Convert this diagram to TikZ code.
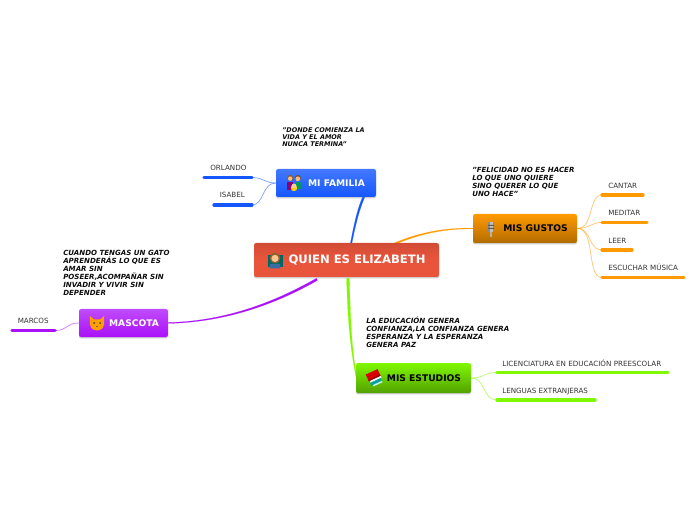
\documentclass[tikz,border=0pt]{standalone}
\usepackage{fontspec}
\setmainfont{DejaVu Sans}
\usetikzlibrary{calc,shadows,backgrounds}
\definecolor{cblue}{HTML}{1557FF}
\definecolor{cpurple}{HTML}{AA10FA}
\definecolor{corange}{HTML}{FF9A00}
\definecolor{cgreen}{HTML}{7FF800}
\definecolor{croot}{HTML}{E9553B}
\tikzset{
  mainbox/.style={rounded corners=1.6pt,inner sep=0pt,font=\fontsize{6.85pt}{7.5pt}\bfseries,
     drop shadow={shadow xshift=0pt,shadow yshift=-1.1pt,opacity=.4}},
  leaftext/.style={anchor=base west,inner sep=0pt,text=black!80,font=\fontsize{5.37pt}{6pt}\selectfont},
  notetext/.style={anchor=north west,inner sep=0pt,align=left,text=black!95,font=\fontsize{5.3pt}{6.05pt}\bfseries\itshape},
  underl/.style={line width=2.4pt,line cap=round},
  twig/.style={line width=.55pt,opacity=.55},
}
\newcommand\taper[7]{\filldraw[#1,line width=.1pt] ($#2+(#6)$) .. controls ($#3+(#6)$) and ($#4+(#7)$) .. ($#5+(#7)$) -- ($#5-(#7)$) .. controls ($#4-(#7)$) and ($#3-(#6)$) .. ($#2-(#6)$) -- cycle;}
\begin{document}
\begin{tikzpicture}[x=0.75pt,y=-0.75pt]
\useasboundingbox (0,0) rectangle (696,520);
% main boxes
\node[mainbox,text=white,minimum width=138.75pt,minimum height=25.5pt,top color=croot!90!black,bottom color=croot,middle color=croot,font=\fontsize{8.7pt}{9.5pt}\bfseries] (root) at (346.5,260) {\hspace{15.75pt}QUIEN ES ELIZABETH};
\node[mainbox,text=white,minimum width=75pt,minimum height=21pt,top color=cblue!80!white,bottom color=cblue] (fam) at (326,183) {\hspace{15.75pt}MI FAMILIA};
\node[mainbox,text=white,minimum width=66.75pt,minimum height=21pt,top color=cpurple!75!white,bottom color=cpurple] (masc) at (123.5,323) {\hspace{15.75pt}MASCOTA};
\node[mainbox,text=black,minimum width=78pt,minimum height=21.75pt,top color=corange,bottom color=corange!70!black] (gus) at (525,228.5) {\hspace{15.75pt}MIS GUSTOS};
\node[mainbox,text=black,minimum width=86.25pt,minimum height=22.5pt,top color=cgreen,bottom color=cgreen!65!black] (est) at (413.5,378) {\hspace{15.75pt}MIS ESTUDIOS};
% notes
\node[notetext,font=\fontsize{4.85pt}{5.6pt}\bfseries\itshape] (n1) at (282,127) {"DONDE COMIENZA LA\\VIDA Y EL AMOR\\NUNCA TERMINA"};
\node[notetext] (n2) at (472,166.5) {"FELICIDAD NO ES HACER\\LO QUE UNO QUIERE\\SINO QUERER LO QUE\\UNO HACE"};
\node[notetext] (n3) at (63,249.5) {CUANDO TENGAS UN GATO\\APRENDERÁS LO QUE ES\\AMAR SIN\\POSEER,ACOMPAÑAR SIN\\INVADIR Y VIVIR SIN\\DEPENDER};
\node[notetext] (n4) at (366,316.5) {LA EDUCACIÓN GENERA\\CONFIANZA,LA CONFIANZA GENERA\\ESPERANZA Y LA ESPERANZA\\GENERA PAZ};
% leaves
\node[leaftext] (l1) at (210,171) {ORLANDO};
\node[leaftext] (l2) at (219.5,198) {ISABEL};
\node[leaftext] (l3) at (17.5,324) {MARCOS};
\node[leaftext] (l4) at (608,189) {CANTAR};
\node[leaftext] (l5) at (608,216) {MEDITAR};
\node[leaftext] (l6) at (608,243.5) {LEER};
\node[leaftext] (l7) at (608,271) {ESCUCHAR MÚSICA};
\node[leaftext] (l8) at (502,366) {LICENCIATURA EN EDUCACIÓN PREESCOLAR};
\node[leaftext] (l9) at (502,393.5) {LENGUAS EXTRANJERAS};
% underline end points
\coordinate (u1a) at (204,177.5); \coordinate (u1b) at (252,177.5);
\coordinate (u2a) at (214,205); \coordinate (u2b) at (252,205);
\coordinate (u3a) at (12,330.5); \coordinate (u3b) at (55,330.5);
\coordinate (u4a) at (602,195); \coordinate (u4b) at (643,195);
\coordinate (u5a) at (602,222.5); \coordinate (u5b) at (647,222.5);
\coordinate (u6a) at (602,250); \coordinate (u6b) at (632,250);
\coordinate (u7a) at (602,277.5); \coordinate (u7b) at (684,277.5);
\coordinate (u8a) at (497,372.5); \coordinate (u8b) at (668,372.5);
\coordinate (u9a) at (497,400); \coordinate (u9b) at (595,400);
\begin{pgfonlayer}{background}
\taper{cblue}{(root.north)+(4.5,1)}{(355,224)}{(358,210)}{(fam.south)+(38,-1)}{0.7,0.2}{1.0,0.3}
\taper{corange}{(gus.west)+(1,0)}{(445,228)}{(420,233)}{(root.north)+(48,1)}{0,0.4}{0.2,0.75}
\taper{cpurple}{(masc.east)+(-1,0)}{(222,322)}{(272,305)}{(root.south)+(-29.5,2)}{0,0.45}{0.5,1.0}
\taper{cgreen}{(est.west)+(1,0)}{(351,350)}{(349,320)}{(root.south)+(1.5,1)}{0.5,0}{1.4,0}
\end{pgfonlayer}
\draw[underl,cblue] (u1a)--(u1b);
\draw[underl,cblue] (u2a)--(u2b);
\draw[underl,cpurple] (u3a)--(u3b);
\draw[underl,corange] (u4a)--(u4b);
\draw[underl,corange] (u5a)--(u5b);
\draw[underl,corange] (u6a)--(u6b);
\draw[underl,corange] (u7a)--(u7b);
\draw[underl,cgreen] (u8a)--(u8b);
\draw[underl,cgreen] (u9a)--(u9b);
% twigs
\draw[twig,cblue] (fam.west) .. controls (264,183) and (264,177.5) .. (u1b);
\draw[twig,cblue] (fam.west) .. controls (262,183) and (264,205) .. (u2b);
\draw[twig,cpurple] (masc.west) .. controls (66,323) and (68,330.5) .. (u3b);
\draw[twig,corange] (gus.east) .. controls (594,228.5) and (588,195) .. (u4a);
\draw[twig,corange] (gus.east) .. controls (590,228.5) and (590,222.5) .. (u5a);
\draw[twig,corange] (gus.east) .. controls (592,228.5) and (588,250) .. (u6a);
\draw[twig,corange] (gus.east) .. controls (596,228.5) and (586,277.5) .. (u7a);
\draw[twig,cgreen] (est.east) .. controls (484,378) and (484,372.5) .. (u8a);
\draw[twig,cgreen] (est.east) .. controls (486,378) and (482,400) .. (u9a);
% icons
\begin{scope}[shift={(275,261)}]
  \fill[teal!80!black] (-7.5,-6) rectangle (7.5,6.5);
  \fill[brown!75!black] (0,-3) circle (5.5);
  \fill[orange!45!white] (0,-2.6) circle (3.6);
  \fill[cyan!55!blue!75!black] (-5.5,7.5) -- (-5,3) -- (5,3) -- (5.5,7.5) -- cycle;
\end{scope}
\begin{scope}[shift={(294,183)}]
  \fill[brown!70!black] (-3.8,-5) circle (3);
  \fill[purple!70!blue] (-7,7) rectangle (-1,-1);
  \fill[orange!50!white] (-3.8,-4.4) circle (2.2);
  \fill[teal!80!green] (1,6) rectangle (7,-1);
  \fill[brown!60!black] (3.8,-5) circle (3);
  \fill[orange!55!white] (3.8,-4.2) circle (2.4);
  \fill[yellow!70!orange] (0,5) circle (3.2);
  \fill[orange!40!white] (0,3) circle (2.4);
\end{scope}
\begin{scope}[shift={(97,323)}]
  \fill[orange!75!yellow] (-7,-7) -- (-3,-3.5) -- (3,-3.5) -- (7,-7) -- (7.2,1) .. controls (6,6.5) and (3,7.5) .. (0,7.5) .. controls (-3,7.5) and (-6,6.5) .. (-7.2,1) -- cycle;
  \fill[black!75] (-3,0) circle (1) (3,0) circle (1);
  \fill[black!70] (-1,3) -- (1,3) -- (0,4.2) -- cycle;
\end{scope}
\begin{scope}[shift={(491,229)}]
  \fill[black!45] (-3,-7) rectangle (3,3);
  \fill[black!25] (-1.5,-7) rectangle (1.5,3);
  \fill[black!65] (-3,-4) rectangle (3,-3) (-3,-1) rectangle (3,0);
  \fill[black!30] (-1,3) rectangle (1,8);
\end{scope}
\begin{scope}[shift={(375,378)},rotate=25]
  \fill[red!85!black] (-7,-7) rectangle (6,0);
  \fill[red!60!black] (-7,-1) rectangle (6,0.6);
  \fill[white] (-6,0.6) rectangle (6,2.4);
  \fill[teal!70!cyan] (-6.5,2.4) rectangle (5,5.5);
  \fill[white!80!cyan] (-5,5.5) rectangle (5,7);
\end{scope}
\end{tikzpicture}
\end{document}
